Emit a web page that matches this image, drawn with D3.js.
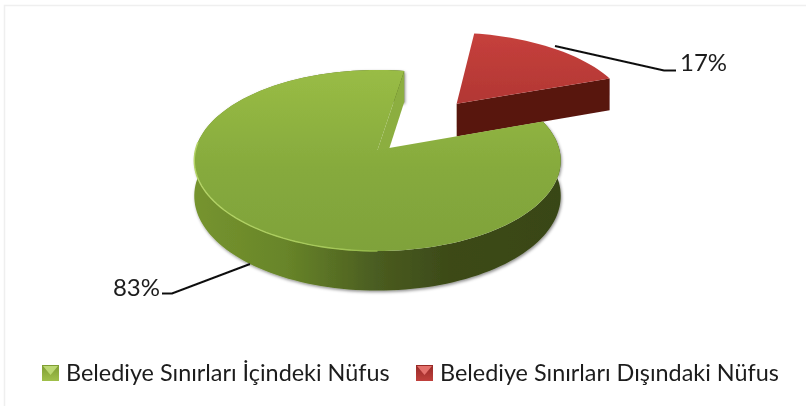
<!DOCTYPE html>
<html lang="tr">

<head>
    <meta charset="UTF-8" />
    <script src="https://d3js.org/d3.v7.min.js"></script>
    <title>Belediye nüfus dağılımı</title>
    <style>
        html, body { margin: 0; padding: 0; background: #fff; }
        text { font-family: Lato, "Open Sans", sans-serif; fill: #1c1c1c; }
    </style>
</head>

<body>
    <script>
        // chart values
        var categories = ["Belediye Sınırları İçindeki Nüfus", "Belediye Sınırları Dışındaki Nüfus"];
        var values = [83, 17];
        var valueLabels = ["83%", "17%"];

        var width = 810, height = 412;

        // the disc is seen in perspective, so the back is flatter than the front
        var cx = 377.5, cy = 150, radiusX = 182, radiusY = 89.3, persp = 0.116;
        var depth = 35;
        var explode = [0, 0.72];  // per slice, in disc radii
        var rad = d => d * Math.PI / 180;

        var pie = d3.pie().sort(null).startAngle(rad(70.6)).endAngle(rad(70.6 + 360));
        var slices = pie(values);

        function project(u, v, down) {
            var s = 1 / (1 + persp * v);
            return [cx + radiusX * u * s, cy - radiusY * v * s + (down ? depth * s : 0)];
        }

        var line = d3.line();

        function offsetOf(d) {
            var mid = (d.startAngle + d.endAngle) / 2, e = explode[d.index];
            return [e * Math.sin(mid), e * Math.cos(mid)];
        }

        function onRim(d, a, down) {
            var o = offsetOf(d);
            return project(o[0] + Math.sin(a), o[1] + Math.cos(a), down);
        }

        function arcAngles(a0, a1) {
            var n = Math.ceil(Math.abs(a1 - a0) / rad(2));
            return d3.range(n + 1).map(i => a0 + (a1 - a0) * i / n);
        }

        function topFace(d) {
            var o = offsetOf(d);
            return line([project(o[0], o[1], false)].concat(arcAngles(d.startAngle, d.endAngle).map(a => onRim(d, a, false)))) + "Z";
        }

        function rimBand(d) {
            var angles = arcAngles(d.startAngle, d.endAngle);
            return line(angles.map(a => onRim(d, a, false)).concat(angles.slice().reverse().map(a => onRim(d, a, true)))) + "Z";
        }

        function wall(d, a) {
            var o = offsetOf(d);
            return line([project(o[0], o[1], false), onRim(d, a, false), onRim(d, a, true), project(o[0], o[1], true)]) + "Z";
        }

        var svg = d3.select("body").append("svg")
            .attr("width", width)
            .attr("height", height)
            .style("display", "block");

        var defs = svg.append("defs");

        function gradient(id, x1, y1, x2, y2, stops) {
            var g = defs.append("linearGradient").attr("id", id)
                .attr("gradientUnits", "userSpaceOnUse")
                .attr("x1", x1).attr("y1", y1).attr("x2", x2).attr("y2", y2);
            stops.forEach(s => g.append("stop").attr("offset", s[0]).attr("stop-color", s[1]));
        }

        gradient("greenTop", 0, 70, 0, 251, [[0, "#99bc45"], [0.55, "#86aa3d"], [1, "#7fa23a"]]);
        gradient("greenRim", 193, 0, 561, 0, [[0, "#76942f"], [0.25, "#688529"], [0.5, "#4a5c20"], [0.7, "#3c4a18"], [1, "#394616"]]);
        gradient("greenEdge", 193, 0, 400, 0, [[0, "#b5d468"], [0.7, "#a4c758"], [1, "#86aa3d"]]);
        gradient("redTop", 0, 33, 0, 135, [[0, "#c6403c"], [1, "#a93330"]]);
        gradient("iconGreen", 0, 365, 0, 381, [[0, "#7e9c33"], [1, "#a0c04a"]]);
        gradient("iconRed", 0, 365, 0, 381, [[0, "#962a27"], [1, "#c0403c"]]);

        var soft = defs.append("filter").attr("id", "soft");
        soft.append("feGaussianBlur").attr("stdDeviation", 0.45);

        var shadow = defs.append("filter").attr("id", "rimShadow")
            .attr("x", "-5%").attr("y", "-5%").attr("width", "110%").attr("height", "115%");
        shadow.append("feDropShadow").attr("dx", 1).attr("dy", 1.5).attr("stdDeviation", 1.6)
            .attr("flood-color", "#000").attr("flood-opacity", 0.45);

        // faint frame of the chart area
        svg.append("path")
            .attr("d", "M4.5,406V5.5H806")
            .attr("fill", "none").attr("stroke", "#efefef").attr("stroke-width", 1.5);

        var chart = svg.append("g").attr("filter", "url(#soft)");

        var green = slices[0], red = slices[1];

        // red slice is behind the green one
        chart.append("path").attr("d", wall(red, red.endAngle)).attr("fill", "#58140f");
        chart.append("path").attr("d", topFace(red)).attr("fill", "url(#redTop)");

        chart.append("path").attr("d", rimBand(green)).attr("fill", "url(#greenRim)").attr("filter", "url(#rimShadow)");
        chart.append("path").attr("d", wall(green, green.endAngle)).attr("fill", "#8cae3f");
        chart.append("path").attr("d", topFace(green)).attr("fill", "url(#greenTop)");

        // light edge on the front left of the top face
        chart.append("path")
            .attr("d", line(arcAngles(rad(275), rad(180)).map(a => onRim(green, a, false))))
            .attr("fill", "none").attr("stroke", "url(#greenEdge)").attr("stroke-width", 1.4);

        // leader lines and value labels
        var leaderPoints = [
            [[250, 264], [172, 293.5], [162, 293.5]],
            [[555, 46], [664, 70.5], [676, 70.5]]
        ];
        var labelPos = [[160, 296], [680, 71]];
        var labelAnchor = ["end", "start"];

        chart.selectAll(".leader").data(leaderPoints).enter().append("path")
            .attr("class", "leader")
            .attr("d", d => line(d))
            .attr("fill", "none").attr("stroke", "#111").attr("stroke-width", 2);

        chart.selectAll(".value").data(valueLabels).enter().append("text")
            .attr("class", "value")
            .attr("x", (d, i) => labelPos[i][0])
            .attr("y", (d, i) => labelPos[i][1])
            .attr("text-anchor", (d, i) => labelAnchor[i])
            .attr("font-size", 24)
            .text(d => d);

        // legend
        var legendIcon = [42, 416], legendText = [66, 440];
        var legendFill = ["url(#iconGreen)", "url(#iconRed)"];
        var legendTriangle = ["#bcd873", "#e4716c"];

        var legend = chart.selectAll(".legend").data(categories).enter().append("g").attr("class", "legend");

        legend.append("rect")
            .attr("x", (d, i) => legendIcon[i]).attr("y", 365)
            .attr("width", 17).attr("height", 16)
            .attr("fill", (d, i) => legendFill[i]);

        legend.append("path")
            .attr("d", (d, i) => line([[legendIcon[i] + 1, 366], [legendIcon[i] + 16, 366], [legendIcon[i] + 8.5, 375]]) + "Z")
            .attr("fill", (d, i) => legendTriangle[i]);

        legend.append("text")
            .attr("x", (d, i) => legendText[i]).attr("y", 381)
            .attr("font-size", 23.4)
            .text(d => d);
    </script>
</body>

</html>
